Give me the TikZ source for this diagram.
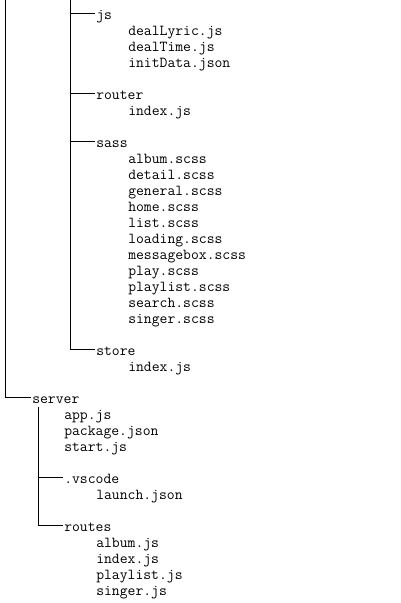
\documentclass[tikz,border=0pt]{standalone}
\usepackage{fontspec}
\usetikzlibrary{positioning}

\begin{document}
\begin{tikzpicture}[
  x=0.75pt, y=-0.75pt,
  entry/.style={anchor=west, inner sep=0pt, text height=1.25ex, text depth=0.25ex,
                font=\fontsize{11.43}{12}\selectfont\ttfamily},
  branch/.style={line width=0.75pt, line cap=rect},
  tip/.style={shift={(-1.5pt,3pt)}}
]
\useasboundingbox (0,0) rectangle (400,603);

% Folders of the client part
\node[entry] (js) at (96,17) {js};
\node[entry] (router) at (96,97) {router};
\node[entry] (sass) at (96,145) {sass};
\node[entry] (store) at (96,353) {store};

% Files of the client part
\foreach \f [count=\i] in {dealLyric.js, dealTime.js, initData.json}
  \node[entry] (js-\i) at (128, 17+16*\i) {\f};
\node[entry] (router-1) at (128,113) {index.js};
\foreach \f [count=\i] in {album.scss, detail.scss, general.scss, home.scss, list.scss,
    loading.scss, messagebox.scss, play.scss, playlist.scss, search.scss, singer.scss}
  \node[entry] (sass-\i) at (128, 145+16*\i) {\f};
\node[entry] (store-1) at (128,369) {index.js};

% Server part
\node[entry] (server) at (32,401) {server};
\foreach \f [count=\i] in {app.js, package.json, start.js}
  \node[entry] (server-\i) at (64, 401+16*\i) {\f};
\node[entry] (vscode) at (64,481) {.vscode};
\node[entry] (vscode-1) at (96,497) {launch.json};
\node[entry] (routes) at (64,529) {routes};
\foreach \f [count=\i] in {album.js, index.js, playlist.js, singer.js}
  \node[entry] (routes-\i) at (96, 529+16*\i) {\f};

% Tree lines
\coordinate (otop) at (5,0);
\coordinate (mtop) at (70,0);
\coordinate (stem) at (38,407);
\foreach \d in {js, router, sass, store, server, vscode, routes}
  \coordinate (\d-in) at ([tip]\d.west);

\draw[branch] (otop) |- (server-in);
\draw[branch] (mtop) |- (store-in);
\foreach \d in {js, router, sass}
  \draw[branch] (mtop |- \d-in) -- (\d-in);
\draw[branch] (stem) |- (routes-in);
\draw[branch] (stem |- vscode-in) -- (vscode-in);

\end{tikzpicture}
\end{document}
